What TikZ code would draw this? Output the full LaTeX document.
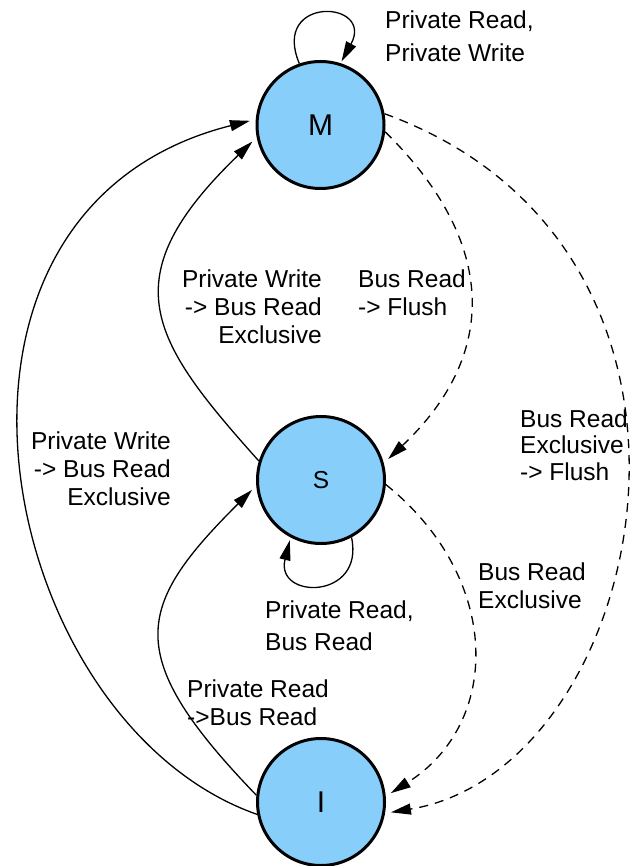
\documentclass[tikz,border=0pt]{standalone}
\usepackage{fontspec}
\setmainfont{Liberation Sans}
\usetikzlibrary{arrows.meta}
\definecolor{stfill}{RGB}{135,206,250}
\tikzset{
  state/.style={circle, draw=black, line width=3pt, fill=stfill, minimum size=127pt, inner sep=0pt, font=\fontsize{30}{34}\selectfont},
  edge/.style={line width=1.3pt, -{Triangle[length=20pt,width=11pt]}, shorten >=6pt},
  dedge/.style={edge, dash pattern=on 9pt off 7pt},
  lbl/.style={inner sep=0pt, font=\fontsize{24.5}{28}\selectfont},
  lblw/.style={lbl, align=left, anchor=base west},
  lble/.style={lbl, align=right, anchor=base east}
}
\begin{document}
\begin{tikzpicture}[x=1pt,y=-1pt]
\useasboundingbox (0,0) rectangle (630,866);
\node[state] (M) at (320.5,125) {M};
\node[state, font=\fontsize{24.5}{28}\selectfont] (S) at (321,480) {S};
\node[state] (I) at (321,802) {I};

% loops
\draw[edge, shorten >=2pt] (M.109) .. controls +(-29,-68.5) and +(34.4,-63.2) .. (M.72);
\draw[edge, shorten >=3pt] (S.-62) .. controls +(13.5,62.6) and +(-15.5,62.6) .. (S.-118);

% solid transitions
\draw[edge] (S.163.5) .. controls +(-108.7,-121.5) and +(-146.7,141.4) .. (M.191.2);
\draw[edge] (I.174) .. controls +(-135,-140) and +(-121.3,121) .. (S.185.3);
\draw[edge] (I.191.3) .. controls +(-262,-91.7) and +(-362,91.2) .. (M.175.4);

% dashed transitions
\draw[dedge] (M.-6.9) .. controls +(113,111.2) and +(114.5,-108.3) .. (S.15.8);
\draw[dedge] (M.10.3) .. controls +(375.5,136.6) and +(265,-43.6) .. (I.-10.3);
\draw[dedge] (S.-4.8) .. controls +(116.2,93.6) and +(116.3,-73.5) .. (I.5.7);

% labels (base anchor = baseline of the last line)
\node[lblw, font=\fontsize{24.5}{33.3}\selectfont] (l1) at (385,61.5) {Private Read,\\Private Write};
\node[lble] (l2) at (322,343) {Private Write\\-> Bus Read\\Exclusive};
\node[lblw] (l3) at (358,315) {Bus Read\\-> Flush};
\node[lble] (l4) at (171,505) {Private Write\\-> Bus Read\\Exclusive};
\node[lblw, font=\fontsize{24.5}{26.7}\selectfont] (l5) at (520,480.5) {Bus Read\\Exclusive\\-> Flush};
\node[lblw] (l6) at (478,608) {Bus Read\\Exclusive};
\node[lblw, font=\fontsize{24.5}{32}\selectfont] (l7) at (265,650) {Private Read,\\Bus Read};
\node[lblw] (l8) at (187,725) {Private Read\\->Bus Read};
\end{tikzpicture}
\end{document}
